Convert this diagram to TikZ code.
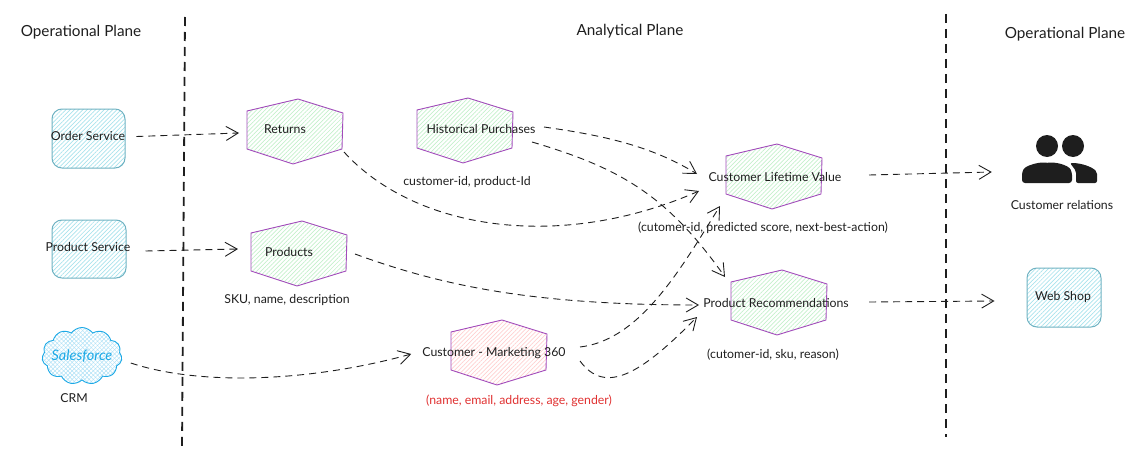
\documentclass[tikz,border=0pt]{standalone}
\usepackage{fontspec}
\setmainfont{Lato}
\usetikzlibrary{arrows.meta,patterns.meta,shapes.symbols}
\definecolor{hexline}{HTML}{A24BBB}
\definecolor{hexgreen}{HTML}{C4F0CB}
\definecolor{hexred}{HTML}{FFD0D0}
\definecolor{svcline}{HTML}{6FB2C2}
\definecolor{svchatch}{HTML}{A8E2EC}
\definecolor{cloudblue}{HTML}{1CA9E6}
\definecolor{ink}{HTML}{1E1E1E}
\definecolor{redtext}{HTML}{E03131}
\tikzset{
  lbl/.style={text=ink,font=\fontsize{12.3}{14}\selectfont,inner sep=0pt},
  head/.style={text=ink,font=\fontsize{15.3}{18}\selectfont,inner sep=0pt},
  hexbox/.style={minimum width=96pt,minimum height=66pt,inner sep=0pt,outer sep=0pt},
  svcbox/.style={draw=svcline,line width=1pt,rounded corners=10pt,inner sep=0pt,pattern={Lines[angle=45,distance=3pt,line width=.7pt]},pattern color=svchatch},
  flow/.style={draw=ink,line width=.9pt,dash pattern=on 7pt off 5pt,-{Straight Barb[length=12pt,width=14pt,line width=.9pt]}},
  border/.style={draw=ink,line width=1.8pt,dash pattern=on 9pt off 6pt}
}
% hexagon: name, centre, hatch colour
\newcommand{\hexa}[3]{
    \node[hexbox] (#1) at (#2) {};
    \draw[draw=hexline,line width=.9pt,pattern={Lines[angle=45,distance=3pt,line width=.7pt]},pattern color=#3] ([shift={(-48,-20)}]#1.center) -- ([shift={(3,-32)}]#1.center) -- ([shift={(48,-18)}]#1.center) -- ([shift={(47,18)}]#1.center) -- ([shift={(-2,33)}]#1.center) -- ([shift={(-48,18)}]#1.center) -- cycle;
}
\begin{document}
\begin{tikzpicture}[x=1pt,y=-1pt]
    \useasboundingbox (0,0) rectangle (1144,460);
    % plane borders
    \coordinate (ltop) at (185,17);
    \coordinate (lbot) at (182,448);
    \coordinate (rtop) at (946,14);
    \coordinate (rbot) at (946,437);
    \draw[border] (ltop) -- (lbot);
    \draw[border] (rtop) -- (rbot);
    \node[head] (planel) at (81,32) {Operational Plane};
    \node[head] (planem) at (630,31) {Analytical Plane};
    \node[head] (planer) at (1065,34) {Operational Plane};
    % sources
    \node[svcbox,minimum width=73pt,minimum height=59pt] (order) at (88.5,138.5) {};
    \node[svcbox,minimum width=74pt,minimum height=58pt] (product) at (89,249) {};
    \node[cloud,cloud puffs=11,cloud puff arc=110,aspect=1.5,draw=cloudblue,line width=.9pt,inner sep=0pt,minimum width=80pt,minimum height=57pt,pattern={Lines[angle=45,distance=3pt,line width=.5pt]},pattern color=cloudblue!35,preaction={pattern={Lines[angle=-45,distance=3pt,line width=.5pt]},pattern color=cloudblue!35}] (crm) at (82,356) {};
    \node[lbl] (orderlbl) at (88,136) {Order Service};
    \node[lbl] (productlbl) at (88,247) {Product Service};
    \node[lbl,text=cloudblue,font=\fontsize{14.5}{16}\selectfont\itshape] (crmlbl) at (82,356) {Salesforce};
    \node[lbl] (crmname) at (74,398) {CRM};
    % data products
    \hexa{returns}{295,131}{hexgreen}
    \hexa{products}{299,253}{hexgreen}
    \hexa{history}{465,130}{hexgreen}
    \hexa{marketing}{499,352}{hexred}
    \hexa{clv}{774,176}{hexgreen}
    \hexa{recs}{779,302}{hexgreen}
    \node[lbl] (returnslbl) at (285,129) {Returns};
    \node[lbl] (productslbl) at (289,252) {Products};
    \node[lbl] (historylbl) at (481,129) {Historical Purchases};
    \node[lbl] (marketinglbl) at (494,353) {Customer - Marketing 360};
    \node[lbl] (clvlbl) at (775,177) {Customer Lifetime Value};
    \node[lbl] (recslbl) at (776,303) {Product Recommendations};
    \node[lbl] (historyattr) at (467,182) {customer-id, product-Id};
    \node[lbl] (productsattr) at (287,300) {SKU, name, description};
    \node[lbl] (clvattr) at (763,228) {(cutomer-id, predicted score, next-best-action)};
    \node[lbl] (recsattr) at (773,355) {(cutomer-id, sku, reason)};
    \node[lbl,text=redtext] (marketingattr) at (519,401) {(name, email, address, age, gender)};
    % consumers
    \node[minimum width=76pt,minimum height=50pt,inner sep=0pt] (people) at (1060,158) {};
    \fill[ink] (1047,146) circle (11);
    \fill[ink] (1073,146) circle (11);
    \fill[ink,rounded corners=3pt] (1022,183) -- (1022,172) .. controls (1026,165) and (1040,162) .. (1047,163) .. controls (1056,162) and (1068,165) .. (1072,172) -- (1072,183) -- cycle;
    \fill[ink,rounded corners=2pt] (1070,163) .. controls (1082,163) and (1092,167) .. (1097,172) -- (1097,183) -- (1076,183) -- (1076,171) -- cycle;
    \node[lbl] (peoplelbl) at (1062,205) {Customer relations};
    \node[svcbox,minimum width=74pt,minimum height=59pt] (shop) at (1064,297.5) {};
    \node[lbl] (shoplbl) at (1063,297) {Web Shop};
    % flows
    \draw[flow] ([xshift=11pt,yshift=2pt]order.east) -- ([xshift=-8pt,yshift=-2pt]returns.west);
    \draw[flow] ([xshift=19pt,yshift=-2pt]product.east) -- ([xshift=-13pt,yshift=4pt]products.west);
    \draw[flow] ([xshift=9pt,yshift=-7pt]crm.east) .. controls (200,386) and (310,382) .. ([xshift=-11pt,yshift=-1pt]marketinglbl.west);
    \draw[flow] ([xshift=1pt,yshift=-21pt]returns.east) .. controls (415,230) and (560,252) .. ([xshift=-27pt,yshift=-15pt]clv.west);
    \draw[flow] ([xshift=31pt,yshift=3pt]history.east) .. controls (600,135) and (650,145) .. ([xshift=-29pt,yshift=2pt]clv.west);
    \draw[flow] ([xshift=19pt,yshift=-12pt]history.east) .. controls (620,168) and (667,195) .. ([xshift=-6pt,yshift=-8pt]recs.north west);
    \draw[flow] ([xshift=8pt,yshift=-1pt]products.east) .. controls (440,285) and (530,305) .. ([xshift=-32pt,yshift=-3pt]recs.west);
    \draw[flow] ([xshift=33pt,yshift=5pt]marketing.east) .. controls (640,340) and (680,270) .. ([xshift=-6pt,yshift=3pt]clv.south west);
    \draw[flow] ([xshift=33pt,yshift=-9pt]marketing.east) .. controls (605,395) and (640,375) .. ([xshift=-34pt,yshift=-15pt]recs.west);
    \draw[flow] ([xshift=47pt,yshift=1pt]clv.east) -- ([xshift=-30pt,yshift=-14pt]people.west);
    \draw[flow] ([xshift=42pt]recs.east) -- ([xshift=-32pt,yshift=-3.5pt]shop.west);
\end{tikzpicture}
\end{document}
